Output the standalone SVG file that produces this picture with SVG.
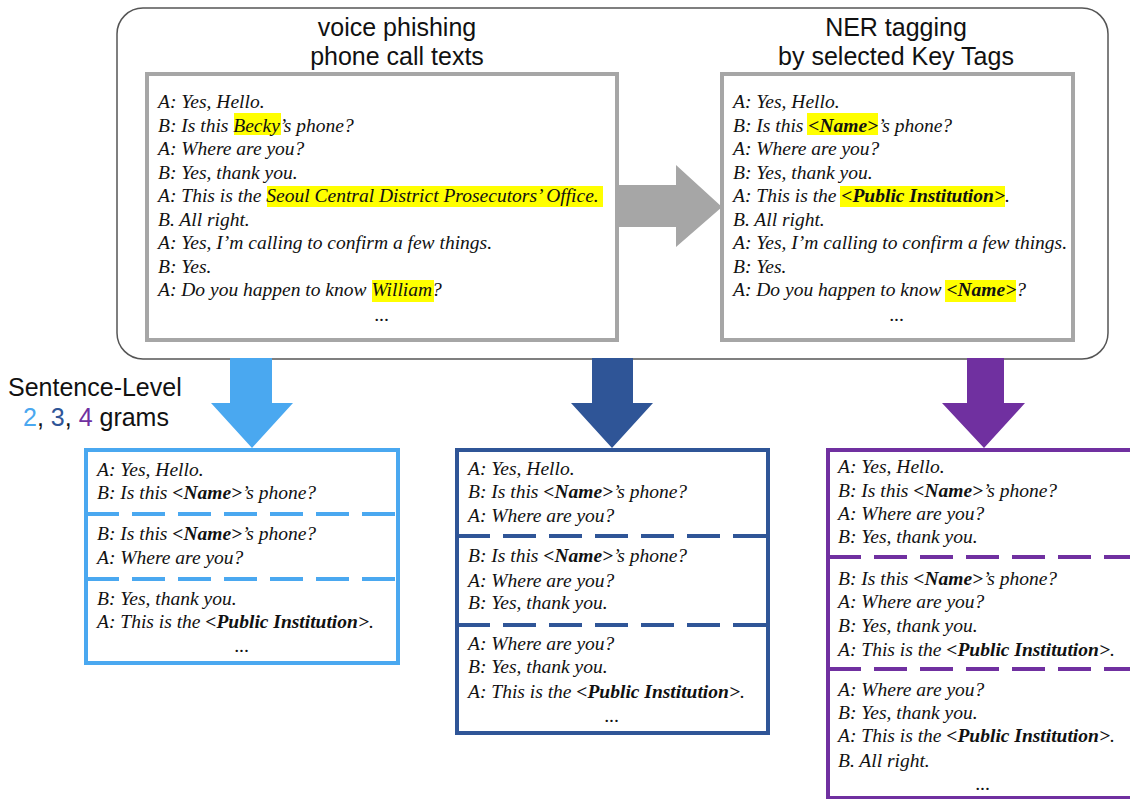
<svg xmlns="http://www.w3.org/2000/svg" width="1130" height="799" viewBox="0 0 1130 799">
<style>
.title{font-family:"Liberation Sans",Arial,sans-serif;font-size:25px;fill:#111;text-anchor:middle}
.lbl{font-family:"Liberation Sans",Arial,sans-serif;font-size:25px;fill:#111}
.t{font-family:"Liberation Serif","Times New Roman",serif;font-size:19.5px;font-style:italic;fill:#111}
.b{font-weight:bold}
.dots{text-anchor:middle}
.hl{fill:#ffff00}
.gbox{fill:#fff;stroke:#a6a6a6;stroke-width:4}
.c1{stroke:#4aa8f0}
.c2{stroke:#2f5597}
.c3{stroke:#7030a0}
.nbox{fill:#fff;stroke-width:4}
.dash{fill:none;stroke-width:4;stroke-dasharray:33 13}
</style>
<rect width="1130" height="799" fill="#fff"/>
<g id="container">
<rect x="117" y="8" width="991" height="351" rx="26" ry="26" fill="#fff" stroke="#555" stroke-width="1.5"/>
</g>
<g id="source-texts">
<text class="title" x="397" y="36">voice phishing</text>
<text class="title" x="397" y="65">phone call texts</text>
<rect class="gbox" x="147" y="74" width="470" height="266"/>
<rect class="hl" x="234" y="113" width="47" height="22"/>
<rect class="hl" x="267" y="186" width="336" height="21"/>
<rect class="hl" x="372" y="280" width="62" height="22"/>
<text class="t" x="158" y="108">A: Yes, Hello.</text>
<text class="t" x="158" y="131.5">B: Is this Becky’s phone?</text>
<text class="t" x="158" y="155">A: Where are you?</text>
<text class="t" x="158" y="178.5">B: Yes, thank you.</text>
<text class="t" x="158" y="202">A: This is the Seoul Central District Prosecutors’ Office.</text>
<text class="t" x="158" y="225.5">B. All right.</text>
<text class="t" x="158" y="249">A: Yes, I’m calling to confirm a few things.</text>
<text class="t" x="158" y="272.5">B: Yes.</text>
<text class="t" x="158" y="296">A: Do you happen to know William?</text>
<text class="t dots" x="382" y="321">...</text>
</g>
<g id="ner-tagged">
<text class="title" x="896" y="36">NER tagging</text>
<text class="title" x="896" y="65">by selected Key Tags</text>
<rect class="gbox" x="722" y="74" width="351" height="266"/>
<rect class="hl" x="807" y="113" width="71" height="22"/>
<rect class="hl" x="840" y="186" width="165" height="21"/>
<rect class="hl" x="945" y="280" width="71" height="22"/>
<text class="t" x="733" y="108">A: Yes, Hello.</text>
<text class="t" x="733" y="131.5">B: Is this <tspan class="b">&lt;Name&gt;</tspan>’s phone?</text>
<text class="t" x="733" y="155">A: Where are you?</text>
<text class="t" x="733" y="178.5">B: Yes, thank you.</text>
<text class="t" x="733" y="202">A: This is the <tspan class="b">&lt;Public Institution&gt;</tspan>.</text>
<text class="t" x="733" y="225.5">B. All right.</text>
<text class="t" x="733" y="249">A: Yes, I’m calling to confirm a few things.</text>
<text class="t" x="733" y="272.5">B: Yes.</text>
<text class="t" x="733" y="296">A: Do you happen to know <tspan class="b">&lt;Name&gt;</tspan>?</text>
<text class="t dots" x="897" y="321">...</text>
</g>
<g id="connectors">
<polygon fill="#a6a6a6" points="617,185 676,185 676,165 722,207 676,247 676,227 617,227"/>
<polygon fill="#4aa8f0" points="230,358 272,358 272,403 293,403 252,448 211,403 230,403"/>
<polygon fill="#2f5597" points="592,358 633,358 633,403 653,403 612,448 571,403 592,403"/>
<polygon fill="#7030a0" points="967,358 1004,358 1004,403 1025,403 984,448 942,403 967,403"/>
</g>
<g id="label">
<text class="lbl" x="8" y="396">Sentence-Level</text>
<text class="lbl" x="23" y="426"><tspan fill="#4aa8f0">2</tspan>, <tspan fill="#2f5597">3</tspan>, <tspan fill="#7030a0">4</tspan> grams</text>
</g>
<g id="bigrams">
<rect class="nbox c1" x="86" y="450" width="312" height="213"/>
<line class="dash c1" x1="86" y1="514" x2="398" y2="514"/>
<line class="dash c1" x1="86" y1="579" x2="398" y2="579"/>
<text class="t" x="97" y="476">A: Yes, Hello.</text>
<text class="t" x="97" y="499">B: Is this <tspan class="b">&lt;Name&gt;</tspan>’s phone?</text>
<text class="t" x="97" y="540">B: Is this <tspan class="b">&lt;Name&gt;</tspan>’s phone?</text>
<text class="t" x="97" y="564">A: Where are you?</text>
<text class="t" x="97" y="605">B: Yes, thank you.</text>
<text class="t" x="97" y="628">A: This is the <tspan class="b">&lt;Public Institution&gt;</tspan>.</text>
<text class="t dots" x="242" y="652">...</text>
</g>
<g id="trigrams">
<rect class="nbox c2" x="457" y="450" width="311" height="283"/>
<line class="dash c2" x1="457" y1="536" x2="768" y2="536"/>
<line class="dash c2" x1="457" y1="625" x2="768" y2="625"/>
<text class="t" x="468" y="475">A: Yes, Hello.</text>
<text class="t" x="468" y="498">B: Is this <tspan class="b">&lt;Name&gt;</tspan>’s phone?</text>
<text class="t" x="468" y="522">A: Where are you?</text>
<text class="t" x="468" y="562">B: Is this <tspan class="b">&lt;Name&gt;</tspan>’s phone?</text>
<text class="t" x="468" y="587">A: Where are you?</text>
<text class="t" x="468" y="609">B: Yes, thank you.</text>
<text class="t" x="468" y="650">A: Where are you?</text>
<text class="t" x="468" y="673">B: Yes, thank you.</text>
<text class="t" x="468" y="698">A: This is the <tspan class="b">&lt;Public Institution&gt;</tspan>.</text>
<text class="t dots" x="612" y="722">...</text>
</g>
<g id="fourgrams">
<rect class="nbox c3" x="828" y="450" width="320" height="348"/>
<line class="dash c3" x1="828" y1="557" x2="1130" y2="557"/>
<line class="dash c3" x1="828" y1="669" x2="1130" y2="669"/>
<text class="t" x="838" y="473">A: Yes, Hello.</text>
<text class="t" x="838" y="497">B: Is this <tspan class="b">&lt;Name&gt;</tspan>’s phone?</text>
<text class="t" x="838" y="520">A: Where are you?</text>
<text class="t" x="838" y="543">B: Yes, thank you.</text>
<text class="t" x="838" y="585">B: Is this <tspan class="b">&lt;Name&gt;</tspan>’s phone?</text>
<text class="t" x="838" y="608">A: Where are you?</text>
<text class="t" x="838" y="632">B: Yes, thank you.</text>
<text class="t" x="838" y="656">A: This is the <tspan class="b">&lt;Public Institution&gt;</tspan>.</text>
<text class="t" x="838" y="696">A: Where are you?</text>
<text class="t" x="838" y="719">B: Yes, thank you.</text>
<text class="t" x="838" y="742">A: This is the <tspan class="b">&lt;Public Institution&gt;</tspan>.</text>
<text class="t" x="838" y="767">B. All right.</text>
<text class="t dots" x="983" y="790">...</text>
</g>
</svg>
